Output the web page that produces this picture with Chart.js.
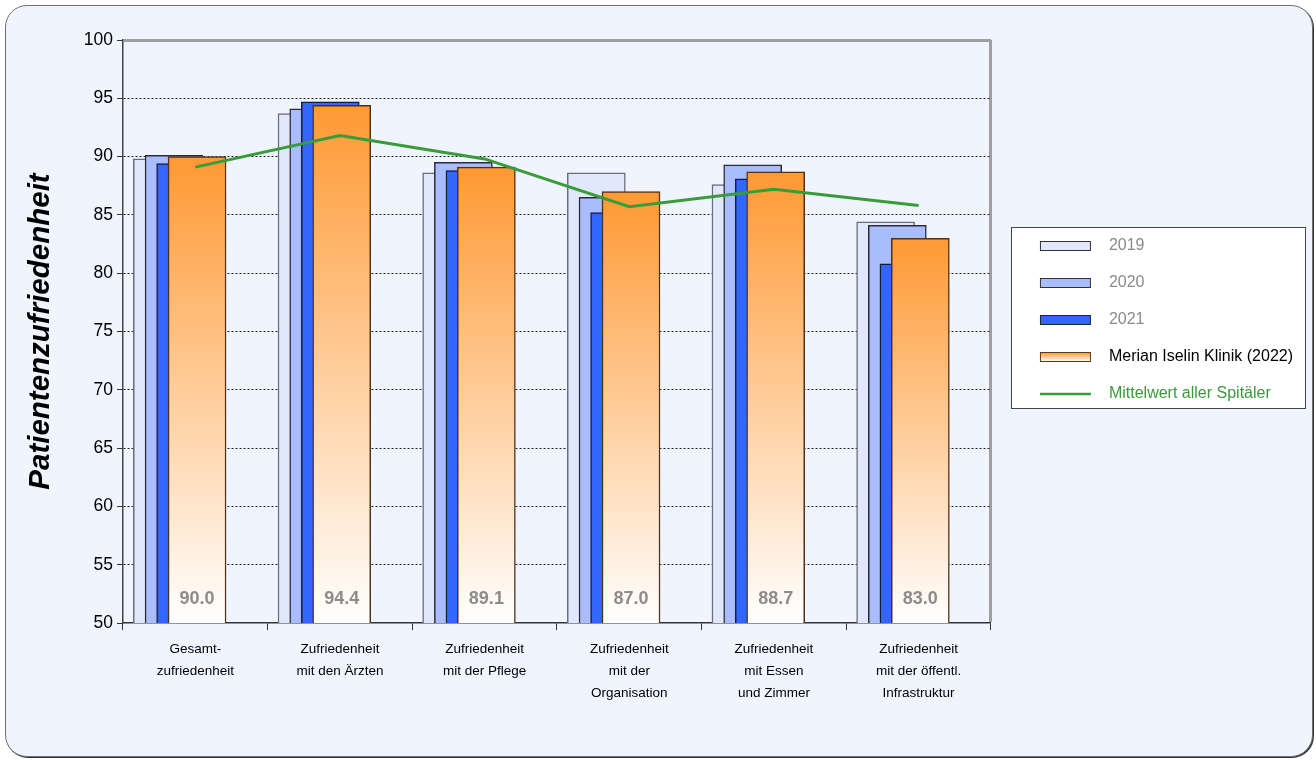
<!DOCTYPE html>
<html lang="de">
<head>
<meta charset="utf-8">
<title>Patientenzufriedenheit</title>
<script src="https://cdn.jsdelivr.net/npm/chart.js@4.4.1/dist/chart.umd.min.js"></script>
<style>
  html, body { margin: 0; padding: 0; background: #ffffff; }
  #frame {
    position: absolute; left: 5px; top: 5px; width: 1308px; height: 752px;
    box-sizing: border-box; border: 1px solid #707070; border-radius: 22px;
    background: #eff4fe; box-shadow: 1px 1px 0 #333;
  }
  #chart { position: absolute; left: 0; top: 0; }
</style>
</head>
<body>
<div id="frame"></div>
<canvas id="chart" width="1316" height="760"></canvas>
<script>
// Kategorien (mehrzeilige Achsenbeschriftung)
const CATEGORIES = [
  ["Gesamt-", "zufriedenheit"],
  ["Zufriedenheit", "mit den Ärzten"],
  ["Zufriedenheit", "mit der Pflege"],
  ["Zufriedenheit", "mit der", "Organisation"],
  ["Zufriedenheit", "mit Essen", "und Zimmer"],
  ["Zufriedenheit", "mit der öffentl.", "Infrastruktur"]
];

const VALUES_2019 = [89.8, 93.7, 88.6, 88.6, 87.6, 84.4];
const VALUES_2020 = [90.1, 94.1, 89.5, 86.5, 89.3, 84.1];
const VALUES_2021 = [89.4, 94.7, 88.8, 85.2, 88.1, 80.8];
const VALUES_2022 = [90.0, 94.4, 89.1, 87.0, 88.7, 83.0];
const AVERAGE_ALL = [89.1, 91.8, 89.8, 85.7, 87.2, 85.8];

const SERIES_LABELS = ["2019", "2020", "2021", "Merian Iselin Klinik (2022)", "Mittelwert aller Spitäler"];
const Y_MIN = 50;
const Y_MAX = 100;
const Y_STEP = 5;

// Darstellung
const BAR_SHIFT = [-0.228, -0.147, -0.067, 0.012];
const BAR_WIDTH = 58;
const LEGEND_SHIFT = 11.5;
const LEGEND_FONT = 16;
const GREEN = "#3a9b3a";
const ORANGE = "#ff9933";
const FAMILY = '"Liberation Sans", Arial, sans-serif';

Chart.defaults.font.family = FAMILY;

function makeSwatch(draw) {
  const canvas = document.createElement("canvas");
  canvas.width = 89;
  canvas.height = 12;
  draw(canvas.getContext("2d"));
  return canvas;
}

function boxSwatch(fill, stroke) {
  return makeSwatch(ctx => {
    ctx.fillStyle = fill;
    ctx.fillRect(28, 1.5, 51, 9);
    ctx.strokeStyle = stroke;
    ctx.lineWidth = 1;
    ctx.strokeRect(28.5, 1.5, 50, 9);
  });
}

const orangeSwatch = makeSwatch(ctx => {
  const gradient = ctx.createLinearGradient(0, 1.5, 0, 10.5);
  gradient.addColorStop(0, ORANGE);
  gradient.addColorStop(1, "#ffffff");
  ctx.fillStyle = gradient;
  ctx.fillRect(28, 1.5, 51, 9);
  ctx.strokeStyle = "#5a3a1c";
  ctx.lineWidth = 1;
  ctx.strokeRect(28.5, 1.5, 50, 9);
});

const lineSwatch = makeSwatch(ctx => {
  ctx.strokeStyle = GREEN;
  ctx.lineWidth = 2.5;
  ctx.beginPath();
  ctx.moveTo(28, 6);
  ctx.lineTo(79, 6);
  ctx.stroke();
});

const SWATCHES = [
  boxSwatch("#e2e8fb", "#333"),
  boxSwatch("#a9bdfd", "#333"),
  boxSwatch("#3366ff", "#222"),
  orangeSwatch,
  lineSwatch
];
const LEGEND_COLORS = ["#8a8a8a", "#8a8a8a", "#8a8a8a", "#000000", GREEN];

function barPoints(values, shift) {
  return values.map((value, index) => ({ x: index + shift, y: value }));
}

function orangeGradient(context) {
  const chart = context.chart;
  const area = chart.chartArea;
  if (!area || context.type !== "data") {
    return ORANGE;
  }
  const top = chart.scales.y.getPixelForValue(context.parsed.y);
  const gradient = chart.ctx.createLinearGradient(0, top, 0, area.bottom);
  gradient.addColorStop(0, ORANGE);
  gradient.addColorStop(1, "#ffffff");
  return gradient;
}

const valueLabels = {
  id: "valueLabels",
  afterDatasetsDraw(chart) {
    const { ctx, chartArea } = chart;
    const meta = chart.getDatasetMeta(3);
    ctx.save();
    ctx.font = `bold 18px ${FAMILY}`;
    ctx.fillStyle = "#8c8c8c";
    ctx.textAlign = "center";
    ctx.textBaseline = "middle";
    meta.data.forEach((bar, index) => {
      ctx.fillText(VALUES_2022[index].toFixed(1), bar.x, chartArea.bottom - 24);
    });
    ctx.restore();
  }
};

const legendFrame = {
  id: "legendFrame",
  afterUpdate(chart) {
    chart.legend.top -= LEGEND_SHIFT;
    chart.legend.bottom -= LEGEND_SHIFT;
  },
  beforeDraw(chart) {
    const legend = chart.legend;
    if (!legend || !legend.columnSizes || !legend.columnSizes.length) {
      return;
    }
    const pad = legend.options.labels.padding;
    const columnHeight = legend.columnSizes[0].height;
    const itemsTop = (legend.top + pad + legend.bottom - columnHeight) / 2;
    const left = Math.round(legend.left + pad - 1) + 0.5;
    const top = Math.round(itemsTop - 11) + 0.5;
    const right = chart.width - 10.5;
    const bottom = Math.round(itemsTop + columnHeight - pad + 6) + 0.5;
    const ctx = chart.ctx;
    ctx.save();
    ctx.fillStyle = "#ffffff";
    ctx.fillRect(left, top, right - left, bottom - top);
    ctx.strokeStyle = "#444";
    ctx.lineWidth = 1;
    ctx.strokeRect(left, top, right - left, bottom - top);
    ctx.restore();
  }
};

const isTopTick = context => context.tick && context.tick.value === Y_MAX;
const isBottomTick = context => context.tick && context.tick.value === Y_MIN;

new Chart(document.getElementById("chart"), {
  type: "bar",
  data: {
    labels: CATEGORIES,
    datasets: [
      {
        label: SERIES_LABELS[0],
        data: barPoints(VALUES_2019, BAR_SHIFT[0]),
        xAxisID: "xb",
        backgroundColor: "#e2e8fb",
        borderColor: "#6c6c7c",
        borderWidth: 1.5,
        order: 4
      },
      {
        label: SERIES_LABELS[1],
        data: barPoints(VALUES_2020, BAR_SHIFT[1]),
        xAxisID: "xb",
        backgroundColor: "#a9bdfd",
        borderColor: "#2a2a3a",
        borderWidth: 1.5,
        order: 3
      },
      {
        label: SERIES_LABELS[2],
        data: barPoints(VALUES_2021, BAR_SHIFT[2]),
        xAxisID: "xb",
        backgroundColor: "#3366ff",
        borderColor: "#1a1a40",
        borderWidth: 1.5,
        order: 2
      },
      {
        label: SERIES_LABELS[3],
        data: barPoints(VALUES_2022, BAR_SHIFT[3]),
        xAxisID: "xb",
        backgroundColor: orangeGradient,
        borderColor: "#4e3218",
        borderWidth: 1.5,
        order: 1
      },
      {
        type: "line",
        label: SERIES_LABELS[4],
        data: AVERAGE_ALL,
        xAxisID: "x",
        borderColor: GREEN,
        borderWidth: 3,
        pointRadius: 0,
        fill: false,
        tension: 0,
        order: 0
      }
    ]
  },
  options: {
    responsive: false,
    animation: false,
    events: [],
    layout: { padding: { top: 40, right: 13, bottom: 40, left: 0 } },
    datasets: {
      bar: { grouped: false, barThickness: BAR_WIDTH }
    },
    plugins: {
      tooltip: { enabled: false },
      legend: {
        position: "right",
        fullSize: false,
        labels: {
          usePointStyle: true,
          pointStyleWidth: 89,
          boxHeight: 12,
          padding: 37 - LEGEND_FONT,
          font: { size: LEGEND_FONT },
          generateLabels: chart => chart.data.datasets.map((dataset, index) => ({
            text: dataset.label,
            fillStyle: "rgba(0,0,0,0)",
            strokeStyle: "rgba(0,0,0,0)",
            lineWidth: 0,
            pointStyle: SWATCHES[index],
            fontColor: LEGEND_COLORS[index],
            hidden: false,
            datasetIndex: index
          }))
        }
      }
    },
    scales: {
      x: {
        type: "category",
        offset: true,
        grid: {
          offset: true,
          color: context => context.type === "scale" ? "#9f9f9f" : "rgba(0,0,0,0)",
          lineWidth: context => context.type === "scale" ? 3 : 1,
          tickLength: 7,
          tickColor: "#333",
          tickWidth: 1
        },
        border: { color: "#333", width: 1.5 },
        ticks: {
          color: "#000",
          autoSkip: false,
          maxRotation: 0,
          padding: 8,
          font: { size: 13.5, lineHeight: 22 / 13.5 }
        },
        afterFit: scale => { scale.height = 97; }
      },
      xb: {
        type: "linear",
        display: false,
        offset: false,
        min: -0.5,
        max: CATEGORIES.length - 0.5
      },
      y: {
        type: "linear",
        min: Y_MIN,
        max: Y_MAX,
        ticks: {
          stepSize: Y_STEP,
          color: "#000",
          padding: 4,
          font: { size: 17.5 }
        },
        grid: {
          color: context => isTopTick(context) ? "#9f9f9f" : isBottomTick(context) ? "rgba(0,0,0,0)" : "#222",
          lineWidth: context => isTopTick(context) ? 3 : 1,
          tickLength: 6,
          tickColor: "#333",
          tickWidth: 1
        },
        border: {
          color: "#444",
          width: 1.5,
          dash: context => isTopTick(context) ? [] : [2, 2]
        },
        title: {
          display: true,
          text: "Patientenzufriedenheit",
          color: "#000",
          padding: { top: 23, bottom: 0 },
          font: { size: 29.5, weight: "bold", style: "italic" }
        },
        afterFit: scale => { scale.width = 123; }
      }
    }
  },
  plugins: [legendFrame, valueLabels]
});
</script>
</body>
</html>
